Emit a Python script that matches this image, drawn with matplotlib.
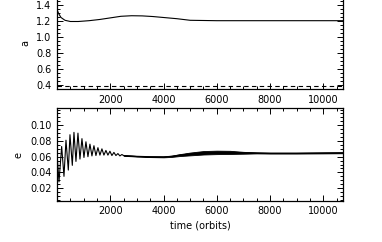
import matplotlib
matplotlib.use("Agg")
import matplotlib.pyplot as plt
from matplotlib.ticker import MultipleLocator

# ---- data ----
a_t = [0, 60, 150, 300, 500, 800, 1200, 1600, 2000, 2400, 2800, 3200, 3600,
       4000, 4500, 5000, 6000, 8000, 10740]
a_v = [1.35, 1.30, 1.25, 1.215, 1.20, 1.20, 1.21, 1.225, 1.245, 1.265, 1.272,
       1.27, 1.262, 1.25, 1.235, 1.215, 1.21, 1.21, 1.21]
a_ref = 0.39

# extrema of the early oscillation in e
e_osc_t = [0, 75, 175, 262, 337, 425, 487, 575, 637, 712, 787, 862, 937, 1012,
           1087, 1162, 1237, 1312, 1387, 1462, 1537, 1612, 1687, 1762, 1837,
           1912, 1987, 2062, 2137, 2212, 2287, 2362, 2437, 2512]
e_osc_v = [0.064, 0.028, 0.073, 0.035, 0.081, 0.043, 0.088, 0.049, 0.091,
           0.054, 0.090, 0.057, 0.083, 0.059, 0.079, 0.060, 0.076, 0.061,
           0.074, 0.0615, 0.0715, 0.062, 0.070, 0.062, 0.068, 0.062, 0.067,
           0.0615, 0.0655, 0.0615, 0.064, 0.061, 0.0628, 0.0612]
# later, dense-oscillation part: mean and half-width of the band
e_late_t = [2512, 2800, 3000, 3500, 4000, 4300, 4600, 5000, 5500, 6000, 6500,
            7000, 7500, 8000, 9000, 10000, 10740]
e_late_v = [0.0615, 0.061, 0.0605, 0.060, 0.0598, 0.0605, 0.062, 0.0635,
            0.065, 0.0655, 0.0655, 0.065, 0.0648, 0.0645, 0.0645, 0.0648, 0.065]
e_late_w = [0.0005, 0.0004, 0.0004, 0.0005, 0.0006, 0.0008, 0.0012, 0.0018,
            0.0022, 0.0022, 0.0020, 0.0012, 0.0006, 0.0005, 0.0005, 0.0006,
            0.0006]

x_ticks = [2000, 4000, 6000, 8000, 10000]
a_ticks = [0.4, 0.6, 0.8, 1.0, 1.2, 1.4]
e_ticks = [0.02, 0.04, 0.06, 0.08, 0.10]

# ---- figure ----
W, H = 382, 242
fig = plt.figure(figsize=(W / 100, H / 100), dpi=100)
plt.rcParams['font.family'] = ['DejaVu Sans']

def rect(l, r, top, bot):
    return [l / W, 1 - bot / H, (r - l) / W, (bot - top) / H]

ax1 = fig.add_axes(rect(57, 343, -10.5, 89))
ax2 = fig.add_axes(rect(57, 343, 108, 200.7))

ax1.plot(a_t, a_v, color='black', lw=0.8)
ax1.axhline(a_ref, color='black', lw=0.8, ls=(0, (4, 3)))
ax1.set_ylim(0.356, 1.6)

ax2.plot(e_osc_t, e_osc_v, color='black', lw=0.8)
lo = [m - w for m, w in zip(e_late_v, e_late_w)]
hi = [m + w for m, w in zip(e_late_v, e_late_w)]
ax2.fill_between(e_late_t, lo, hi, color='black', lw=0.6)
ax2.plot(e_late_t, e_late_v, color='black', lw=0.8)
ax2.set_ylim(0.004, 0.122)

for ax, yt in ((ax1, a_ticks), (ax2, e_ticks)):
    ax.set_xlim(0, 10740)
    ax.set_xticks(x_ticks)
    ax.xaxis.set_minor_locator(MultipleLocator(500))
    ax.set_yticks(yt)
    ax.tick_params(which='both', direction='in', top=True, right=True,
                   labelsize=7, width=0.7, colors='black')
    ax.tick_params(which='major', length=4.5, pad=4)
    ax.tick_params(which='minor', length=2.2)
    for s in ax.spines.values():
        s.set_linewidth(0.9)

ax1.yaxis.set_minor_locator(MultipleLocator(0.05))
ax2.yaxis.set_minor_locator(MultipleLocator(0.005))
ax1.set_yticklabels([f"{v:.1f}" for v in a_ticks])
ax2.set_yticklabels([f"{v:.2f}" for v in e_ticks])

fig.text(25 / W, 1 - 43 / H, 'a', rotation=90, ha='center', va='center',
         fontsize=7)
fig.text(19 / W, 1 - 155 / H, 'e', rotation=90, ha='center', va='center',
         fontsize=7)
fig.text(200 / W, 1 - 226 / H, 'time (orbits)', ha='center', va='center',
         fontsize=7)

fig.savefig('out.png', dpi=100)
